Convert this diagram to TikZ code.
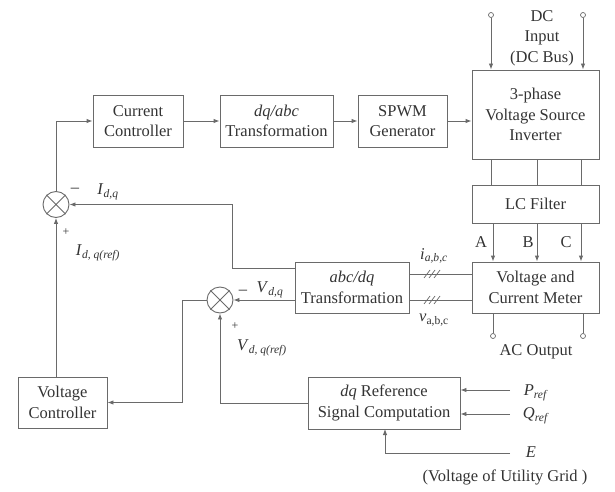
\documentclass[tikz,border=0pt]{standalone}
\usepackage{fontspec}
\setmainfont{Liberation Serif}
\usetikzlibrary{arrows.meta,calc}
\definecolor{ln}{HTML}{6A6A6A}
\definecolor{tx}{HTML}{333333}
\begin{document}
\begin{tikzpicture}[x=1pt,y=-1pt,
  every node/.style={text=tx,font=\fontsize{16.5}{20.5}\selectfont},
  blk/.style={draw=ln,line width=0.9pt,align=center,inner sep=0pt},
  sumnode/.style={draw=ln,line width=0.9pt,circle,minimum size=26pt,inner sep=0pt},
  term/.style={draw=ln,line width=0.7pt,circle,fill=white,minimum size=5pt,inner sep=0pt},
  lab/.style={inner sep=0pt},
  wire/.style={draw=ln,line width=0.9pt},
  arr/.style={wire,-{Latex[length=6pt,width=4.5pt]}}]
\useasboundingbox (0,0) rectangle (615,492);
% blocks
\node[blk,minimum width=90pt,minimum height=52pt] (cc) at (138,121) {Current\\Controller};
\node[blk,minimum width=113pt,minimum height=52pt] (dqabc) at (276.5,121) {\textit{dq/abc}\\Transformation};
\node[blk,minimum width=89pt,minimum height=52pt] (spwm) at (402.5,121) {SPWM\\Generator};
\node[blk,minimum width=127pt,minimum height=89pt] (vsi) at (535.5,114.5) {3-phase\\Voltage Source\\Inverter};
\node[blk,minimum width=127pt,minimum height=38pt] (lc) at (535.5,204) {LC Filter};
\node[blk,minimum width=127pt,minimum height=51pt] (meter) at (535.5,287.5) {Voltage and\\Current Meter};
\node[blk,minimum width=114pt,minimum height=51pt] (abcdq) at (352,287.5) {\textit{abc/dq}\\Transformation};
\node[blk,minimum width=89pt,minimum height=51pt] (vc) at (62.5,402.5) {Voltage\\Controller};
\node[blk,minimum width=152pt,minimum height=52pt] (dqref) at (384,403) {\textit{dq} Reference\\Signal Computation};
% summers
\node[sumnode] (s1) at (56,204.5) {};
\draw[ln,line width=0.9pt] (s1.45)--(s1.225) (s1.135)--(s1.315);
\node[sumnode] (s2) at (220,300) {};
\draw[ln,line width=0.9pt] (s2.45)--(s2.225) (s2.135)--(s2.315);
% terminals
\node[term] (dc1) at (491,15) {};
\node[term] (dc2) at (583,15) {};
\node[term] (ac1) at (493,336) {};
\node[term] (ac2) at (583,336) {};
% forward path
\draw[arr] (cc) -- (dqabc);
\draw[arr] (dqabc) -- (spwm);
\draw[arr] (spwm.east) -- (spwm.east -| vsi.west);
\draw[arr] (dc1) -- (dc1 |- vsi.north);
\draw[arr] (dc2) -- (dc2 |- vsi.north);
\foreach \xx in {491,537,581}{\draw[wire] (\xx,159) -- (\xx,185);}
\coordinate (pa) at (493,223);
\coordinate (pb) at (537,223);
\coordinate (pc) at (581,223);
\draw[arr] (pa) -- (pa |- meter.north);
\draw[arr] (pb) -- (pb |- meter.north);
\draw[arr] (pc) -- (pc |- meter.north);
\draw[wire] (ac1 |- meter.south) -- (ac1);
\draw[wire] (ac2 |- meter.south) -- (ac2);
% measurement lines
\coordinate (mi) at (472,274);
\coordinate (mv) at (472,300);
\draw[wire] (mi) -- (mi -| abcdq.east);
\draw[wire] (mv) -- (mv -| abcdq.east);
\foreach \yy in {274,300}{
  \foreach \dx in {-5,0,5}{\draw[ln,line width=0.7pt] (432+\dx-3,\yy+4) -- (432+\dx+3,\yy-4);}}
% feedback loops
\coordinate (fi) at (295,268);
\draw[arr] (fi) -- (232,268) -- (232,204.5) -- (s1.east);
\draw[arr] (abcdq.west |- s2) -- (s2.east);
\draw[arr] (s1.north) -- (56,121) -- (cc.west);
\draw[arr] (s1 |- vc.north) -- (s1.south);
\draw[arr] (s2.west) -- (182,300) -- (182,402.5) -- (vc.east);
\draw[arr] (dqref.west) -- (220,403) -- (s2.south);
\coordinate (pr) at (510,390);
\coordinate (qr) at (510,414);
\coordinate (ee) at (510,453);
\draw[arr] (pr) -- (pr -| dqref.east);
\draw[arr] (qr) -- (qr -| dqref.east);
\draw[arr] (ee) -- (385,453) -- (385,429);
% labels
\node[lab,align=center] (dclab) at (542,38) {DC\\Input\\(DC Bus)};
\node[lab] (la) at (481,242) {A};
\node[lab] (lb) at (528,242) {B};
\node[lab] (lcc) at (566,242) {C};
\node[lab] (il) at (434,256) {\textit{i}\textsubscript{\textit{a,b,c}}};
\node[lab] (vl) at (434,320) {\textit{v}\textsubscript{a,b,c}};
\node[lab] (acl) at (536,352) {AC Output};
\node[lab] (m1) at (75,190) {--};
\node[lab] (idq) at (108,192) {\textit{I}\textsubscript{\textit{d,q}}};
\node[lab,font=\fontsize{12}{14}\selectfont] (p1) at (66,232) {+};
\node[lab] (idqr) at (98,253) {\textit{I}\textsubscript{\textit{d, q(ref)}}};
\node[lab] (m2) at (243,292) {--};
\node[lab] (vdq) at (270,290) {\textit{V}\textsubscript{\textit{d,q}}};
\node[lab,font=\fontsize{12}{14}\selectfont] (p2) at (235,326) {+};
\node[lab] (vdqr) at (262,348) {\textit{V}\textsubscript{\textit{d, q(ref)}}};
\node[lab] (prl) at (536,393) {\textit{P}\textsubscript{\textit{ref}}};
\node[lab] (qrl) at (536,416) {\textit{Q}\textsubscript{\textit{ref}}};
\node[lab] (el) at (531,452) {\textit{E}};
\node[lab] (ugl) at (505,477) {(Voltage of Utility Grid )};
\end{tikzpicture}
\end{document}
